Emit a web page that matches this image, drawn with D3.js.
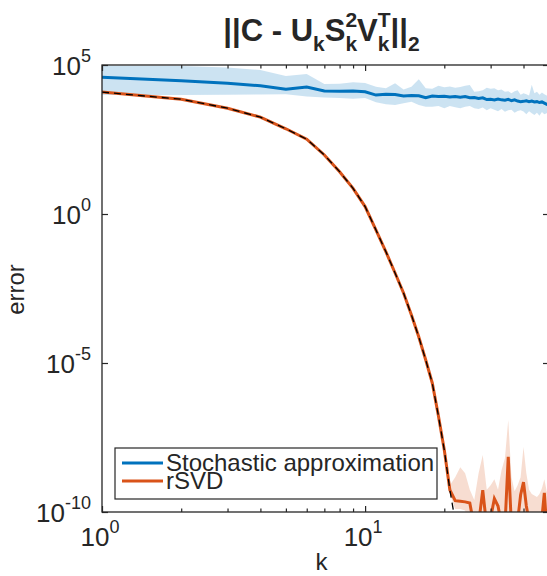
<!DOCTYPE html>
<html>
<head>
<meta charset="utf-8">
<script src="https://cdn.jsdelivr.net/npm/d3@7"></script>
<style>
body { margin: 0; background: #fff; }
text { font-family: "Liberation Sans", Arial, Helvetica, sans-serif; fill: #262626; }
</style>
</head>
<body>
<div id="chart"></div>
<script>
// k = 1..50, values are log10(error)
var kValues = d3.range(1, 51);

var stochMeanLog = [4.59, 4.47, 4.39, 4.30, 4.19, 4.26, 4.13, 4.12, 4.13, 4.10,
    3.99, 4.02, 4.01, 3.96, 3.98, 3.97, 3.90, 3.96, 3.94, 3.95,
    3.93, 3.94, 3.92, 3.94, 3.90, 3.91, 3.88, 3.90, 3.84, 3.85,
    3.83, 3.86, 3.83, 3.82, 3.85, 3.80, 3.83, 3.79, 3.77, 3.78,
    3.80, 3.77, 3.79, 3.76, 3.77, 3.74, 3.76, 3.72, 3.68, 3.66];
var stochUpperLog = [4.98, 4.97, 4.92, 4.83, 4.63, 4.70, 4.36, 4.37, 4.42, 4.40,
    4.27, 4.22, 4.39, 4.18, 4.27, 4.52, 4.22, 4.20, 4.30, 4.25,
    4.28, 4.24, 4.26, 4.30, 4.33, 4.10, 4.12, 4.15, 4.24, 4.20,
    4.22, 4.15, 4.18, 4.10, 4.12, 4.05, 4.12, 4.15, 4.00, 4.05,
    4.02, 3.98, 4.34, 4.05, 4.10, 4.00, 4.08, 4.02, 3.98, 3.95];
var stochLowerLog = [3.99, 3.99, 4.00, 4.01, 4.02, 3.94, 3.91, 3.89, 3.87, 3.89,
    3.75, 3.68, 3.66, 3.72, 3.77, 3.66, 3.60, 3.60, 3.62, 3.55,
    3.62, 3.58, 3.55, 3.60, 3.62, 3.55, 3.52, 3.57, 3.48, 3.55,
    3.50, 3.45, 3.52, 3.43, 3.48, 3.50, 3.40, 3.46, 3.48, 3.44,
    3.35, 3.45, 3.38, 3.32, 3.40, 3.30, 3.42, 3.35, 3.38, 3.42];

var rsvdMeanLog = [4.09, 3.85, 3.55, 3.25, 2.86, 2.51, 1.98, 1.42, 0.86, 0.25,
    -0.54, -1.27, -1.98, -2.65, -3.39, -4.13, -4.90, -5.67, -6.78, -7.92,
    -9.26, -9.62, -9.64, -9.66, -9.70, -10.5, -10.4, -9.27, -10.5, -10.2,
    -9.55, -9.80, -10.4, -10.5, -8.15, -10.5, -10.6, -10.3, -9.43, -9.00,
    -9.80, -10.3, -10.5, -10.4, -10.6, -10.5, -10.2, -9.36, -10.5, -10.0];
// band only visible from k = 20 on
var rsvdBandK = d3.range(20, 51);
var rsvdUpperLog = [-7.92,
    -9.10, -8.83, -8.50, -8.70, -9.25, -9.60, -8.70, -8.09, -9.25, -9.10,
    -8.90, -9.25, -8.60, -8.20, -6.91, -8.83, -9.30, -9.10, -8.83, -7.82,
    -8.70, -9.25, -9.40, -9.45, -9.50, -9.40, -9.20, -8.90, -9.30, -9.50];
var rsvdLowerLog = [-7.92,
    -9.40, -9.90, -9.90, -9.95, -10.6, -11.0, -11.0, -11.0, -11.0, -11.0,
    -11.0, -11.0, -11.0, -11.0, -11.0, -11.0, -11.0, -11.0, -11.0, -11.0,
    -11.0, -11.0, -11.0, -11.0, -11.0, -11.0, -11.0, -11.0, -11.0, -11.0];

// theoretical curve (black dashed)
var theoryK = d3.range(1, 25);
var theoryLog = [4.09, 3.85, 3.55, 3.25, 2.86, 2.51, 1.98, 1.42, 0.86, 0.25,
    -0.54, -1.27, -1.98, -2.65, -3.39, -4.13, -4.90, -5.67, -6.78, -7.92,
    -9.26, -10.3, -11.2, -12.0];

var xTicksMajor = [1, 10];
var xTicksMinor = [2, 3, 4, 5, 6, 7, 8, 9, 20, 30, 40];
var yTicks = [-10, -5, 0, 5];

var legendLabels = ["Stochastic approximation", "rSVD"];
var colors = { blue: "#0072BD", orange: "#D95319", axis: "#262626" };

var margin = { top: 65, left: 102 },
    width = 447,
    height = 447;

var svg = d3.select("#chart").append("svg")
    .attr("width", 547)
    .attr("height", 576);

var g = svg.append("g")
    .attr("transform", "translate(" + margin.left + "," + margin.top + ")");

var x = d3.scaleLog().domain([1, 50]).range([0, width]);
var y = d3.scaleLog().domain([1e-10, 1e5]).range([height, 0]);
var p = function (v) { return Math.pow(10, v); };

g.append("clipPath").attr("id", "clip")
    .append("rect").attr("width", width).attr("height", height);

var plot = g.append("g").attr("clip-path", "url(#clip)");

var area = d3.area()
    .x(d => x(d.k))
    .y0(d => y(d.lo))
    .y1(d => y(d.hi));
var line = d3.line()
    .x(d => x(d.k))
    .y(d => y(d.v));

var stochBand = kValues.map((k, i) => ({ k: k, lo: p(stochLowerLog[i]), hi: p(stochUpperLog[i]) }));
var rsvdBand = rsvdBandK.map((k, i) => ({ k: k, lo: p(rsvdLowerLog[i]), hi: p(rsvdUpperLog[i]) }));

plot.append("path").datum(stochBand)
    .attr("fill", colors.blue).attr("fill-opacity", 0.2)
    .attr("d", area);
plot.append("path").datum(rsvdBand)
    .attr("fill", colors.orange).attr("fill-opacity", 0.2)
    .attr("d", area);

plot.append("path")
    .datum(kValues.map((k, i) => ({ k: k, v: p(stochMeanLog[i]) })))
    .attr("fill", "none").attr("stroke", colors.blue).attr("stroke-width", 3)
    .attr("d", line);
plot.append("path")
    .datum(kValues.map((k, i) => ({ k: k, v: p(rsvdMeanLog[i]) })))
    .attr("fill", "none").attr("stroke", colors.orange).attr("stroke-width", 3)
    .attr("d", line);
plot.append("path")
    .datum(theoryK.map((k, i) => ({ k: k, v: p(theoryLog[i]) })))
    .attr("fill", "none").attr("stroke", "#000").attr("stroke-width", 1.3)
    .attr("stroke-dasharray", "7,5")
    .attr("d", line);

// ticks (inside, on all four sides)
function tickAxis(axis, tr) {
    var a = g.append("g").attr("transform", tr).call(axis);
    a.select(".domain").remove();
    a.selectAll("line").attr("stroke", colors.axis).attr("stroke-width", 1.2);
    a.selectAll("text").remove();
}
tickAxis(d3.axisBottom(x).tickValues(xTicksMajor).tickSize(-6), "translate(0," + height + ")");
tickAxis(d3.axisBottom(x).tickValues(xTicksMinor).tickSize(-3.5), "translate(0," + height + ")");
tickAxis(d3.axisTop(x).tickValues(xTicksMajor).tickSize(-6), "translate(0,0)");
tickAxis(d3.axisTop(x).tickValues(xTicksMinor).tickSize(-3.5), "translate(0,0)");
tickAxis(d3.axisLeft(y).tickValues(yTicks.map(p)).tickSize(-6), "translate(0,0)");
tickAxis(d3.axisRight(y).tickValues(yTicks.map(p)).tickSize(-6), "translate(" + width + ",0)");

g.append("rect")
    .attr("width", width).attr("height", height)
    .attr("fill", "none").attr("stroke", colors.axis).attr("stroke-width", 1.3);

// tick labels 10^n
function powLabel(sel, exp) {
    sel.append("tspan").text("10");
    sel.append("tspan").attr("dy", -13).attr("font-size", 18).text(exp);
}
yTicks.forEach(function (e) {
    var t = g.append("text")
        .attr("x", -11).attr("y", y(p(e)) + 10)
        .attr("text-anchor", "end").attr("font-size", 26);
    powLabel(t, e);
});
xTicksMajor.forEach(function (v) {
    var t = g.append("text")
        .attr("x", x(v) - 2).attr("y", height + 34)
        .attr("text-anchor", "middle").attr("font-size", 26);
    powLabel(t, Math.round(Math.log10(v)));
});

// axis labels
g.append("text")
    .attr("x", width / 2 - 4).attr("y", height + 58)
    .attr("text-anchor", "middle").attr("font-size", 24)
    .text("k");
g.append("text")
    .attr("transform", "translate(-78," + (height / 2 + 1) + ") rotate(-90)")
    .attr("text-anchor", "middle").attr("font-size", 24)
    .text("error");

// title ||C - U_k S_k^2 V_k^T||_2, pieces placed one after another
var titleParts = [
    { t: "||C - U" }, { sub: "k" }, { t: "S" }, { sub: "k", sup: "2" },
    { t: "V" }, { sub: "k", sup: "T" }, { t: "||" }, { sub: "2" }
];
var title = svg.append("g").attr("font-weight", "bold");
var cx = 0;
titleParts.forEach(function (d) {
    if (d.t) {
        var t = title.append("text").attr("x", cx).attr("y", 41)
            .attr("font-size", 31).text(d.t);
        cx += t.node().getComputedTextLength();
    } else {
        var s = title.append("text").attr("x", cx).attr("y", 51)
            .attr("font-size", 21).text(d.sub);
        var w = s.node().getComputedTextLength();
        if (d.sup) {
            var u = title.append("text").attr("x", cx).attr("y", 27)
                .attr("font-size", 21).text(d.sup);
            w = Math.max(w, u.node().getComputedTextLength());
        }
        cx += w;
    }
});
title.attr("transform", "translate(" + (margin.left + width / 2 - 4 - cx / 2) + ",0)");

// legend
var legend = svg.append("g").attr("transform", "translate(115,448)");
legend.append("rect")
    .attr("width", 322).attr("height", 51)
    .attr("fill", "#fff").attr("stroke", colors.axis).attr("stroke-width", 1.2);
[colors.blue, colors.orange].forEach(function (c, i) {
    legend.append("line")
        .attr("x1", 7).attr("x2", 48)
        .attr("y1", 15 + i * 18).attr("y2", 15 + i * 18)
        .attr("stroke", c).attr("stroke-width", 3);
    legend.append("text")
        .attr("x", 51).attr("y", 23 + i * 18)
        .attr("font-size", 24)
        .text(legendLabels[i]);
});
</script>
</body>
</html>
